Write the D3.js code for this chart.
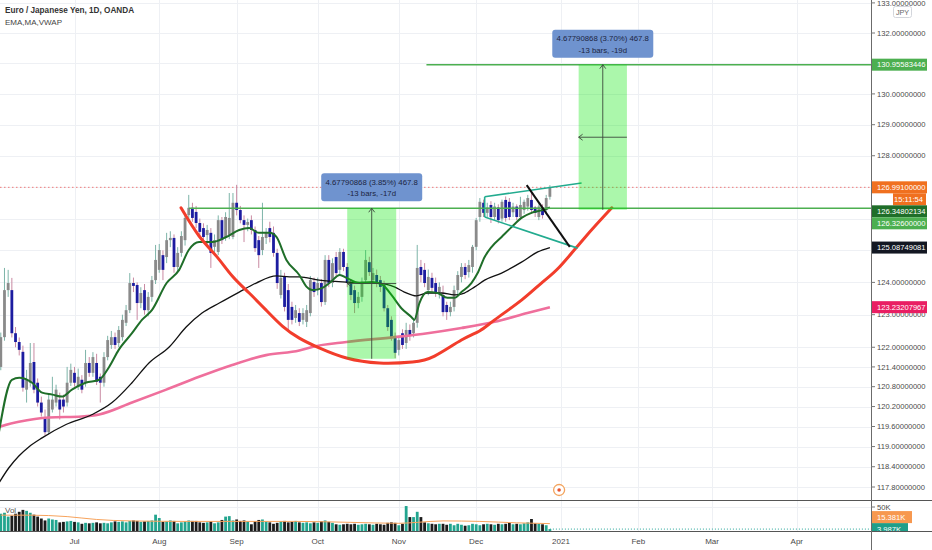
<!DOCTYPE html>
<html><head><meta charset="utf-8">
<script src="https://cdn.jsdelivr.net/npm/d3@7/dist/d3.min.js"></script>
<style>
html,body{margin:0;padding:0;background:#fff;}
svg{display:block;}
text{font-family:"Liberation Sans",Arial,sans-serif;}
</style></head><body>
<svg id="chart" width="932" height="550"></svg>
<script>
// ---------------- DATA ----------------
const title = "Euro / Japanese Yen, 1D, OANDA";
const subtitle = "EMA,MA,VWAP";
const firstBarDate = "2020-06-03";   // bar index 0, one bar per weekday

// [open, high, low, close]
const ohlc = [
[121.40,122.45,121.30,122.31],[122.31,124.45,122.20,123.76],[123.76,124.39,123.55,123.98],[123.76,124.14,122.30,122.43],[122.43,122.62,122.00,122.16],
[122.16,122.30,121.75,121.92],[121.86,122.05,120.65,120.77],[120.71,121.31,120.32,121.01],[120.92,122.13,120.80,121.52],[121.55,122.13,120.60,120.71],
[120.92,121.05,120.20,120.32],[120.32,120.50,119.90,120.02],[119.87,120.11,119.33,119.43],[119.43,120.60,119.36,120.41],[120.11,121.10,120.02,120.41],
[120.32,120.86,120.20,120.71],[120.41,120.62,119.81,120.11],[120.41,120.56,120.02,120.20],[120.32,121.40,120.20,120.92],[120.92,121.50,120.82,121.31],
[121.22,121.40,120.80,120.92],[120.80,121.35,120.70,121.10],[121.01,121.15,120.60,120.71],[120.92,121.92,120.80,121.52],[121.52,121.70,121.10,121.22],
[121.22,121.85,121.10,121.70],[121.52,121.80,120.85,120.95],[121.10,121.20,120.32,120.92],[120.92,121.85,120.80,121.70],[121.70,122.35,121.60,122.22],
[122.07,122.50,121.95,122.31],[122.31,122.45,121.95,122.07],[122.13,122.65,122.00,122.53],[122.31,123.00,122.20,122.84],[122.75,123.30,122.65,123.14],
[123.14,124.29,123.05,123.98],[123.98,124.15,123.70,123.89],[123.92,124.00,122.84,123.36],[123.36,123.85,123.20,123.67],[123.76,123.95,123.00,123.14],
[123.14,123.70,122.95,123.55],[123.55,124.20,123.40,124.07],[124.07,125.17,123.95,124.70],[124.39,125.20,124.30,125.01],[124.85,125.00,124.07,124.39],
[124.79,125.55,124.60,125.32],[125.32,125.60,125.10,125.39],[125.39,125.50,124.30,124.48],[124.48,125.10,124.35,124.92],[124.92,125.60,124.80,125.45],
[125.32,126.10,125.15,126.02],[126.11,126.75,125.95,126.34],[126.34,126.50,125.90,126.02],[126.21,126.40,125.70,125.86],[125.86,126.00,125.45,125.58],
[125.70,125.85,125.30,125.42],[125.48,125.80,125.20,125.64],[125.55,125.70,124.45,124.92],[125.11,125.50,124.95,125.32],[124.95,126.10,124.85,125.95],
[125.95,126.05,125.20,125.32],[125.42,126.20,125.30,126.05],[125.48,126.81,125.35,126.02],[125.42,126.81,125.35,126.50],[126.50,127.07,126.10,126.27],
[126.27,126.40,125.85,125.95],[125.95,126.10,125.26,125.80],[125.80,126.00,125.60,125.89],[125.95,126.10,125.50,125.64],[125.64,125.75,124.95,125.07],
[125.32,125.45,124.45,124.85],[125.01,126.50,124.85,125.42],[125.39,125.70,125.20,125.55],[125.70,125.90,125.25,125.42],[125.55,125.75,124.80,124.92],
[124.92,125.05,123.80,123.98],[123.61,124.39,123.50,124.14],[124.17,124.30,123.10,123.24],[123.76,123.95,122.53,122.84],[123.24,123.40,122.70,122.84],
[122.90,123.30,122.75,123.14],[123.05,123.20,122.65,122.78],[122.84,123.20,122.70,123.05],[122.78,123.30,122.62,123.14],[123.05,124.20,122.95,124.07],
[124.01,124.15,123.55,123.70],[123.76,124.15,123.60,123.98],[123.98,124.10,123.25,123.39],[123.39,124.85,123.30,124.70],[124.70,124.85,123.85,123.98],
[123.98,124.75,123.85,124.60],[124.79,124.95,124.15,124.29],[124.39,125.07,124.25,124.95],[124.95,125.05,124.35,124.48],[124.48,124.60,123.85,123.98],
[123.98,124.10,123.45,123.61],[123.76,123.90,123.05,123.36],[123.36,123.70,123.20,123.55],[123.55,124.15,123.40,124.01],[124.07,125.01,123.95,124.70],
[124.63,124.80,124.20,124.32],[124.07,124.45,123.95,124.29],[124.23,124.40,123.85,123.98],[124.07,124.20,123.70,123.86],[123.92,124.05,123.10,123.20],
[123.20,123.30,122.50,122.62],[122.84,122.95,122.20,122.31],[122.31,122.45,121.67,121.83],[121.92,122.35,121.75,122.22],[122.43,122.55,121.95,122.07],
[122.13,122.75,121.95,122.53],[122.53,122.70,122.20,122.37],[122.43,122.90,122.30,122.75],[122.75,125.17,122.60,124.45],[124.48,124.70,124.00,124.23],
[124.39,124.60,123.85,123.98],[123.76,124.40,123.60,124.17],[124.14,124.30,123.70,123.83],[123.98,124.15,123.55,123.70],[123.70,124.00,123.50,123.86],
[123.61,123.90,122.95,123.08],[123.30,123.40,122.84,123.08],[123.08,123.40,122.95,123.24],[123.24,123.90,123.10,123.76],[123.76,124.35,123.60,124.23],
[124.17,124.60,124.00,124.48],[124.48,124.60,124.10,124.23],[124.32,124.70,124.15,124.54],[124.48,125.17,124.30,125.11],[125.11,126.02,125.00,125.95],
[126.05,126.65,125.90,126.53],[126.50,126.60,126.05,126.18],[126.18,126.50,126.05,126.35],[126.43,126.55,125.86,126.05],[126.05,126.50,125.95,126.38],
[126.35,126.45,125.85,125.95],[126.00,126.60,125.90,126.53],[126.59,126.70,125.90,126.02],[126.53,126.65,125.95,126.05],[126.20,126.50,126.05,126.38],
[126.38,126.45,125.95,126.05],[126.05,126.69,125.95,126.43],[126.27,126.60,126.15,126.53],[126.38,126.75,126.25,126.65],[126.59,126.84,126.15,126.27],
[126.35,126.40,126.05,126.18],[126.05,126.45,125.95,126.38],[126.35,126.45,126.00,126.11],[126.27,126.75,126.15,126.65],[126.69,127.06,126.60,126.991]
];

// volume per bar, thousands
const volumeK = [
36,38,30,32,36,40,44,42,38,34,30,26,22,26,24,23,18,19,20,21,
19,18,15,17,16,17,18,16,17,16,
18,20,19,20,18,21,22,21,19,20,
21,22,34,27,19,20,22,21,16,18,
20,22,21,21,18,17,18,20,16,18,
23,30,31,22,24,21,22,20,14,20,
23,24,20,18,15,17,20,21,18,19,
21,18,17,18,16,18,17,20,22,19,
17,14,13,14,15,14,15,13,14,15,
14,13,15,14,13,17,18,17,12,15,
52,29,29,40,29,18,16,15,14,15,
15,13,15,12,15,13,11,12,15,14,
12,14,15,14,13,15,14,15,17,14,
15,14,16,18,25,16,15,14,12,3.987
];

// indicator lines: [bar index, value]
const emaLine = [[-0.5,119.43],[3,121.01],[5,121.07],[8.5,120.92],[11.2,120.62],[14,120.56],[16.6,120.50],[19.3,120.71],[23,120.92],[26.7,121.01],[29.4,121.40],[32,121.92],[35.6,122.43],[38.3,122.84],[41,123.14],[45,123.98],[48.4,124.39],[51,125.01],[53.8,125.26],[57.4,125.26],[61.2,125.42],[64.7,125.64],[67.4,125.70],[70,125.55],[73,125.55],[74.8,125.42],[77.5,124.70],[81,124.23],[83,123.86],[84.5,123.76],[87.3,123.83],[89.2,123.98],[92,124.23],[93.8,124.14],[97.3,123.98],[100.8,124.01],[103.6,123.92],[106,123.61],[108.7,123.20],[111.4,122.93],[112.2,122.84],[113.6,123.36],[115.8,123.70],[118.5,123.67],[121.2,123.52],[123.1,123.52],[125,123.70],[127.7,123.98],[129.4,124.29],[131.3,124.79],[133.2,125.11],[135.9,125.42],[138.6,125.73],[141.3,126.02],[144,126.18],[146.7,126.26],[149,126.348]];
const maLine = [[-0.5,117.92],[2.2,118.37],[4.9,118.72],[7.6,118.99],[11.2,119.26],[17.7,119.66],[24.8,119.96],[30.2,120.32],[35.6,120.92],[40.2,121.52],[45.7,122.01],[50.3,122.62],[54.6,123.05],[59.3,123.36],[64.7,123.70],[69.3,123.98],[74.8,124.20],[78.3,124.17],[81,124.17],[86.4,124.07],[93.8,124.01],[102.7,123.98],[106.8,123.86],[109.5,123.70],[112.8,123.58],[115.8,123.67],[119.6,123.67],[123.1,123.61],[125.8,123.67],[128.6,123.86],[131.3,124.07],[135.9,124.29],[141.3,124.63],[145.7,124.95],[149,125.087]];
const vwapLine = [[-0.5,119.59],[4.9,119.74],[13.1,119.87],[22,119.90],[26.7,119.96],[35.6,120.32],[44.9,120.71],[53.8,121.10],[62.8,121.46],[72,121.76],[81,121.90],[84.5,122.01],[93.8,122.16],[106.8,122.31],[115.8,122.43],[125,122.59],[134,122.78],[142.9,123.05],[149,123.232]];
const volMaLine = [[0,33],[8,33],[18,30],[26,24],[35,21],[50,20],[65,20],[80,20],[95,18],[108,16],[113,18],[120,21],[130,20],[140,17],[149,15.381]];

// drawings: [bar index, price]
const cupArc = [[48.9,126.34],[53.8,125.45],[58.5,124.82],[62.8,124.20],[67.4,123.67],[72,123.14],[76.4,122.65],[81,122.28],[86.4,121.98],[93.8,121.67],[102.7,121.52],[111.7,121.55],[117.7,121.73],[125,122.22],[129.9,122.50],[134,122.84],[141.3,123.45],[146.7,123.98],[151.6,124.48],[158.4,125.39],[165.8,126.34]];
const wedgeLines = [[[131.3,126.69],[157.6,127.13]],[[131.3,126.69],[131.3,126.05]],[[131.3,126.05],[156.5,125.07]]];
const blackTrend = [[142.7,127.06],[154.4,125.11]];
const levelLines = [{price:126.326, fromBar:51.1},{price:130.95583446, fromBar:115.5}];
const measures = [
  {bars:[94,107.3], prices:[121.648,126.326], line1:"4.67790868 (3.85%) 467.8", line2:"-13 bars, -17d"},
  {bars:[156.8,169.9], prices:[126.278,130.95583446], line1:"4.67790868 (3.70%) 467.8", line2:"-13 bars, -19d"}
];
const eventMarkerBar = 151.5;

const priceTicks = [133,132,131,130,129,128,127,126,125,124,123,122,121.4,120.8,120.2,119.6,119.0,118.4,117.8];
const monthTicks = [["Jul","2020-07-01"],["Aug","2020-08-03"],["Sep","2020-09-01"],["Oct","2020-10-01"],["Nov","2020-11-02"],["Dec","2020-12-01"],["2021","2021-01-01"],["Feb","2021-02-01"],["Mar","2021-03-01"],["Apr","2021-04-01"]];
const priceLabels = [
  {value:130.95583446, text:"130.95583446", bg:"#4caf50"},
  {value:126.991, text:"126.99100000", bg:"#f0701f", countdown:"15:11:54"},
  {value:126.34802134, text:"126.34802134", bg:"#1f6e29"},
  {value:126.326, text:"126.32600000", bg:"#4caf50"},
  {value:125.08749081, text:"125.08749081", bg:"#131722"},
  {value:123.23207967, text:"123.23207967", bg:"#e91e63"}
];
const volLabels = [
  {value:15.381, text:"15.381K", bg:"#f7984f"},
  {value:3.987, text:"3.987K", bg:"#1f9e89"}
];
const currency = "JPY";

// ---------------- CHART ----------------
const svg = d3.select("#chart");
const PR = 871, MB = 500, VB = 531, W = 932, H = 550;
const parse = d3.utcParse("%Y-%m-%d");
function weekdayIndex(ds){
  const d0 = parse(firstBarDate), d1 = parse(ds); let n = 0;
  for (let d = new Date(d0); d < d1; d.setUTCDate(d.getUTCDate()+1)) { const w = d.getUTCDay(); if (w !== 0 && w !== 6) n++; }
  return n;
}
const x = d3.scaleLinear().domain([weekdayIndex("2020-07-01"), weekdayIndex("2021-04-01")]).range([74.5, 796.8]);
const y = d3.scaleLog().domain([117.8, 132]).range([487, 33]);
const yv = d3.scaleLinear().domain([0, 50]).range([VB, 507]);

const defs = svg.append("defs");
defs.append("clipPath").attr("id","clipMain").append("rect").attr("x",0).attr("y",0).attr("width",PR).attr("height",MB);
defs.append("clipPath").attr("id","clipVol").append("rect").attr("x",0).attr("y",MB).attr("width",PR).attr("height",VB-MB);
defs.append("clipPath").attr("id","clipAxisVol").append("rect").attr("x",PR).attr("y",MB).attr("width",W-PR).attr("height",VB-MB);

// layout of coloured price labels (stacked so they never overlap)
let prevBottom = -1e9;
const labelBoxes = [];
priceLabels.forEach(l=>{
  const top = Math.max(y(l.value)-6, prevBottom);
  labelBoxes.push({l, top, kind:"price"});
  prevBottom = top + 12;
  if (l.countdown) { labelBoxes.push({l, top:prevBottom, kind:"count"}); prevBottom += 12; }
});
// plain ticks whose text would sit under a coloured label are hidden
const shownTicks = priceTicks.filter(t=>{
  const ty = y(t);
  return !labelBoxes.some(b=>ty > b.top - 1 && ty < b.top + 13);
});

// grid
const grid = svg.append("g");
grid.selectAll("line.hg").data(priceTicks).join("line")
  .attr("x1",0).attr("x2",PR).attr("y1",d=>Math.round(y(d))+0.5).attr("y2",d=>Math.round(y(d))+0.5)
  .attr("stroke","#eef0f4").attr("stroke-width",1);
grid.selectAll("line.vg").data(monthTicks).join("line")
  .attr("x1",d=>Math.round(x(weekdayIndex(d[1])))+0.5).attr("x2",d=>Math.round(x(weekdayIndex(d[1])))+0.5)
  .attr("y1",0).attr("y2",VB).attr("stroke","#eef0f4");
grid.append("line").attr("x1",0).attr("x2",PR).attr("y1",Math.round(yv(50))+0.5).attr("y2",Math.round(yv(50))+0.5).attr("stroke","#eef0f4");

// last-price dotted line
svg.append("line").attr("x1",0).attr("x2",PR).attr("y1",y(126.991)).attr("y2",y(126.991))
  .attr("stroke","#ef5350").attr("stroke-opacity",0.75).attr("stroke-dasharray","1.5,2.5");

// candles
const cd = ohlc.map((d,i)=>({i, o:d[0], h:d[1], l:d[2], c:d[3], up:d[3]>=d[0]}));
const gC = svg.append("g").attr("clip-path","url(#clipMain)");
gC.selectAll("line.wick").data(cd).join("line")
  .attr("x1",d=>x(d.i)).attr("x2",d=>x(d.i)).attr("y1",d=>y(d.h)).attr("y2",d=>y(d.l))
  .attr("stroke",d=>d.up?"#7db4a8":"#c98aa2").attr("stroke-width",1);
gC.selectAll("rect.body").data(cd).join("rect")
  .attr("x",d=>x(d.i)-1.4).attr("width",2.8)
  .attr("y",d=>y(Math.max(d.o,d.c))).attr("height",d=>Math.max(1,Math.abs(y(d.o)-y(d.c))))
  .attr("fill",d=>d.up?"#8a8a8a":"#1c1ca0");

// indicator lines
const line = d3.line().x(d=>x(d[0])).y(d=>y(d[1])).curve(d3.curveMonotoneX);
const gL = svg.append("g").attr("clip-path","url(#clipMain)");
gL.append("path").attr("d",line(vwapLine)).attr("fill","none").attr("stroke","#ef6f9c").attr("stroke-width",2.6);
gL.append("path").attr("d",line(maLine)).attr("fill","none").attr("stroke","#111").attr("stroke-width",1.3);
gL.append("path").attr("d",line(emaLine)).attr("fill","none").attr("stroke","#1f6e29").attr("stroke-width",2);

// drawings
const gD = svg.append("g").attr("clip-path","url(#clipMain)");
gD.append("path").attr("d",d3.line().x(d=>x(d[0])).y(d=>y(d[1])).curve(d3.curveNatural)(cupArc))
  .attr("fill","none").attr("stroke","#f23d2b").attr("stroke-width",3).attr("stroke-linecap","round");
levelLines.forEach(l=>{
  gD.append("line").attr("x1",x(l.fromBar)).attr("x2",PR).attr("y1",y(l.price)).attr("y2",y(l.price))
    .attr("stroke","#4caf50").attr("stroke-width",1.6);
});
wedgeLines.forEach(s=>{
  gD.append("line").attr("x1",x(s[0][0])).attr("y1",y(s[0][1])).attr("x2",x(s[1][0])).attr("y2",y(s[1][1]))
    .attr("stroke","#22ab8f").attr("stroke-width",1.6);
});
gD.append("line").attr("x1",x(blackTrend[0][0])).attr("y1",y(blackTrend[0][1])).attr("x2",x(blackTrend[1][0])).attr("y2",y(blackTrend[1][1]))
  .attr("stroke","#111").attr("stroke-width",2);

measures.forEach(m=>{
  const x0 = x(m.bars[0]), x1 = x(m.bars[1]);
  const yTop = y(m.prices[1]), yBot = y(m.prices[0]);
  gD.append("rect").attr("x",x0).attr("y",yTop).attr("width",x1-x0).attr("height",yBot-yTop).attr("fill","rgba(0,230,0,0.33)");
  const cx = (x0+x1)/2, cy = (yTop+yBot)/2;
  gD.append("line").attr("x1",cx).attr("x2",cx).attr("y1",yBot).attr("y2",yTop).attr("stroke","#3c4a3c").attr("stroke-width",0.9);
  gD.append("path").attr("d",`M${cx-3},${yTop+4}L${cx},${yTop}L${cx+3},${yTop+4}`).attr("fill","none").attr("stroke","#3c4a3c").attr("stroke-width",0.9);
  gD.append("line").attr("x1",x0).attr("x2",x1).attr("y1",cy).attr("y2",cy).attr("stroke","#3c4a3c").attr("stroke-width",0.9);
  gD.append("path").attr("d",`M${x0+4},${cy-3}L${x0},${cy}L${x0+4},${cy+3}`).attr("fill","none").attr("stroke","#3c4a3c").attr("stroke-width",0.9);
  const bw = 101, bh = 28, bx = cx - bw/2, by = yTop - 7 - bh;
  svg.append("rect").attr("x",bx).attr("y",by).attr("width",bw).attr("height",bh).attr("rx",3).attr("fill","#6f93cf");
  svg.append("text").attr("x",cx).attr("y",by+9).attr("dy","0.35em").attr("text-anchor","middle").attr("font-size",7.8).attr("fill","#1c2541").text(m.line1);
  svg.append("text").attr("x",cx).attr("y",by+20.5).attr("dy","0.35em").attr("text-anchor","middle").attr("font-size",7.8).attr("fill","#1c2541").text(m.line2);
});

// event marker
svg.append("circle").attr("cx",x(eventMarkerBar)).attr("cy",MB-10).attr("r",5.5).attr("fill","#fff").attr("stroke","#f3a45e").attr("stroke-width",1.3);
svg.append("circle").attr("cx",x(eventMarkerBar)).attr("cy",MB-10).attr("r",1.8).attr("fill","#e8542f");

// volume
const gV = svg.append("g").attr("clip-path","url(#clipVol)");
gV.selectAll("rect.v").data(cd).join("rect")
  .attr("x",d=>x(d.i)-1.4).attr("width",2.8)
  .attr("y",d=>yv(volumeK[d.i])).attr("height",d=>VB-yv(volumeK[d.i]))
  .attr("fill",d=>d.up?"#22a58f":"#1c1c1c");
gV.append("path").attr("d",d3.line().x(d=>x(d[0])).y(d=>yv(d[1])).curve(d3.curveMonotoneX)(volMaLine))
  .attr("fill","none").attr("stroke","#f7a35c").attr("stroke-width",1);
gV.append("line").attr("x1",x(ohlc.length-1)).attr("x2",PR).attr("y1",yv(volumeK[volumeK.length-1])).attr("y2",yv(volumeK[volumeK.length-1]))
  .attr("stroke","#26a69a").attr("stroke-dasharray","1,2");
svg.append("text").attr("x",5).attr("y",510).attr("dy","0.35em").attr("font-size",8).attr("fill","#555").text("Vol");

// pane frames
svg.append("line").attr("x1",0).attr("x2",W).attr("y1",MB+0.5).attr("y2",MB+0.5).attr("stroke","#555");
svg.append("line").attr("x1",0).attr("x2",W).attr("y1",VB+0.5).attr("y2",VB+0.5).attr("stroke","#555");
svg.append("line").attr("x1",PR+0.5).attr("x2",PR+0.5).attr("y1",0).attr("y2",H).attr("stroke","#6b6b6b");

// price axis
const gA = svg.append("g");
gA.selectAll("line.t").data(priceTicks).join("line").attr("x1",PR).attr("x2",PR+4)
  .attr("y1",d=>y(d)).attr("y2",d=>y(d)).attr("stroke","#777");
gA.selectAll("text.t").data(shownTicks).join("text").attr("x",PR+6).attr("y",d=>y(d)).attr("dy","0.35em")
  .attr("font-size",7.6).attr("fill","#4a4a4a").text(d=>d.toFixed(8));

labelBoxes.forEach(b=>{
  if (b.kind === "price") {
    gA.append("rect").attr("x",PR+1).attr("y",b.top).attr("width",55).attr("height",12).attr("fill",b.l.bg);
    gA.append("text").attr("x",PR+6).attr("y",b.top+6).attr("dy","0.35em").attr("font-size",7.6).attr("fill","#fff").text(b.l.text);
  } else {
    gA.append("rect").attr("x",893).attr("y",b.top).attr("width",33).attr("height",12).attr("fill",b.l.bg);
    gA.append("text").attr("x",923).attr("y",b.top+6).attr("dy","0.35em").attr("text-anchor","end").attr("font-size",7.6).attr("fill","#fff").text(b.l.countdown);
  }
});
// currency box
gA.append("rect").attr("x",893.5).attr("y",6.5).attr("width",18).attr("height",11).attr("rx",2).attr("fill","#fff").attr("stroke","#d3d6dc");
gA.append("text").attr("x",902.5).attr("y",12).attr("dy","0.35em").attr("text-anchor","middle").attr("font-size",7.2).attr("fill","#666").text(currency);

// volume axis
const gVA = svg.append("g").attr("clip-path","url(#clipAxisVol)");
gVA.append("line").attr("x1",PR).attr("x2",PR+4).attr("y1",yv(50)).attr("y2",yv(50)).attr("stroke","#777");
gVA.append("text").attr("x",PR+6).attr("y",yv(50)).attr("dy","0.35em").attr("font-size",7.6).attr("fill","#4a4a4a").text("50K");
let prevTop = 1e9;
volLabels.slice().sort((a,b)=>a.value-b.value).forEach(l=>{
  const bottom = Math.min(yv(l.value)+6, prevTop);
  gVA.append("rect").attr("x",PR+1).attr("y",bottom-12).attr("width",l.text.length>6?40:36).attr("height",12).attr("fill",l.bg);
  gVA.append("text").attr("x",PR+6).attr("y",bottom-6).attr("dy","0.35em").attr("font-size",7.6).attr("fill","#fff").text(l.text);
  prevTop = bottom - 12;
});

// time axis
svg.selectAll("text.m").data(monthTicks).join("text")
  .attr("x",d=>x(weekdayIndex(d[1]))).attr("y",541).attr("dy","0.35em").attr("text-anchor","middle")
  .attr("font-size",8).attr("fill","#4a4a4a").text(d=>d[0]);

// title
svg.append("text").attr("x",5).attr("y",10.5).attr("dy","0.35em").attr("font-size",8.2).attr("font-weight","bold").attr("fill","#333").text(title);
svg.append("text").attr("x",5).attr("y",22).attr("dy","0.35em").attr("font-size",8).attr("fill","#444").text(subtitle);
</script>
</body></html>
